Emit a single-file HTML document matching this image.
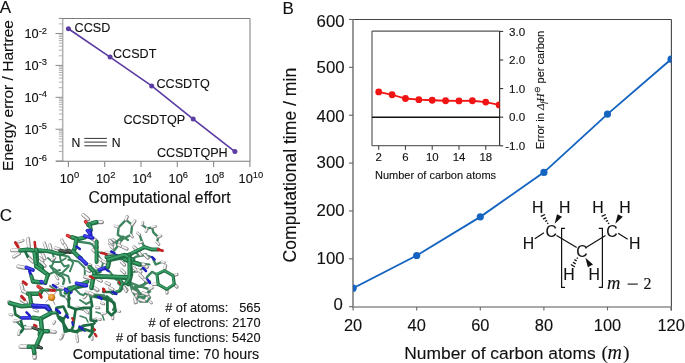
<!DOCTYPE html>
<html><head><meta charset="utf-8"><style>
html,body{margin:0;padding:0;background:#fff;}
svg{display:block;filter:blur(0.4px);}
#mol polyline{fill:none;stroke-linecap:round;stroke-linejoin:round;}
text{stroke:#111;stroke-width:0.12px;}
</style></head><body>
<svg width="685" height="363" viewBox="0 0 685 363">
<rect width="685" height="363" fill="#fff"/>
<g id="mol"><polyline points="52.1,252 54.3,258.7 53.2,263.1 51,267.5" stroke="#3f8560" stroke-width="2.00"/>
<polyline points="59.8,255.4 61,262 64.3,266.4 68.7,265.3" stroke="#3f8560" stroke-width="2.00"/>
<polyline points="51,266.4 54.3,271.9 57.6,274.1 62,273 65.4,269.7 68.7,266.4" stroke="#3f8560" stroke-width="2.00"/>
<polyline points="57.6,274.1 62,276.3 64.3,279.6 63.2,284" stroke="#3f8560" stroke-width="2.40"/>
<polyline points="59.8,287.4 60.9,295.1 66.5,297.3 68.7,302" stroke="#3f8560" stroke-width="2.40"/>
<polyline points="84.8,294 104,295.4" stroke="#3f8560" stroke-width="2.40"/>
<polyline points="16,321 22.3,327.3 25.5,325.7" stroke="#3f8560" stroke-width="2.00"/>
<polyline points="130.8,285.1 132.2,290.6 136.3,297.5 143.2,297.5 147.3,294.8 150,297.5 147.3,301.6 140.4,301.6 136.3,297.5" stroke="#3f8560" stroke-width="2.40"/>
<polyline points="97.4,252.2 109.8,253.4 119.8,255.9 129.7,259.6 139.6,263.3 149.5,264.6" stroke="#3f8560" stroke-width="2.00"/>
<polyline points="50,286 56,290 62,290" stroke="#3f8560" stroke-width="2.00"/>
<polyline points="74,288 80,294 86,296" stroke="#3f8560" stroke-width="2.00"/>
<polyline points="60,262 66,258" stroke="#3f8560" stroke-width="1.60"/>
<polyline points="80,300 86,304 90,302" stroke="#3f8560" stroke-width="2.00"/>
<polyline points="96,312 102,314 104,320" stroke="#3f8560" stroke-width="1.60"/>
<polyline points="80,316 86,318 88,322" stroke="#3f8560" stroke-width="1.60"/>
<polyline points="78.2,241.6 89.7,243.2 93,244.9 94.7,248.2" stroke="#3f8560" stroke-width="2.40"/>
<polyline points="109.5,239.9 116.1,242.4 122.7,236.6 128,239.9" stroke="#3f8560" stroke-width="2.40"/>
<polyline points="60,254.8 68.3,256.4 73.2,263 69.9,271.3" stroke="#3f8560" stroke-width="2.00"/>
<polyline points="68.3,259.7 78.2,261.4 84.8,268 84.8,274.6" stroke="#3f8560" stroke-width="2.00"/>
<polyline points="98,254.8 103,263 101.3,269.6" stroke="#3f8560" stroke-width="2.00"/>
<polyline points="109.5,271.3 116.1,279.5 122.7,282.8" stroke="#3f8560" stroke-width="2.00"/>
<polyline points="60,273 68.3,276.2 69.9,282.8" stroke="#3f8560" stroke-width="2.00"/>
<polyline points="47.9,258 53,262 60,262" stroke="#3f8560" stroke-width="2.00"/>
<polyline points="50,266 56,270 60,276" stroke="#3f8560" stroke-width="2.00"/>
<polyline points="47.9,274.8 54,272 60,270" stroke="#3f8560" stroke-width="2.00"/>
<polyline points="40,267 44,270" stroke="#3f8560" stroke-width="2.00"/>
<polyline points="118.6,227.3 126,219.9 132.2,224.9 131,234.8 123.5,238.5 117.8,234.8 118.6,227.3" stroke="#3f8560" stroke-width="2.40"/>
<polyline points="123.5,238.5 119.8,242.2 114.9,241" stroke="#3f8560" stroke-width="2.40"/>
<polyline points="142.1,224.9 147.1,228.6 152,227.3 153.3,232.3 158.2,237.2 157,242.2" stroke="#3f8560" stroke-width="2.40"/>
<polyline points="139.6,234.8 142.1,242.2 144.6,247.2" stroke="#3f8560" stroke-width="2.40"/>
<polyline points="153.3,259.5 155.7,264.5 161.9,262" stroke="#3f8560" stroke-width="2.40"/>
<polyline points="157,274.4 152,271.9 147.1,276.9 144.6,284.3 137.2,286.8" stroke="#3f8560" stroke-width="2.40"/>
<polyline points="134.7,286.8 137.2,294.2 147.1,294.2 149.5,289.3 142.1,286.8 134.7,286.8" stroke="#3f8560" stroke-width="2.40"/>
<polyline points="135,252 140,256 146,254" stroke="#3f8560" stroke-width="2.00"/>
<polyline points="134,272 140,270 146,266" stroke="#3f8560" stroke-width="2.00"/>
<polyline points="114.9,275.6 124.8,279.4" stroke="#3f8560" stroke-width="2.00"/>
<polyline points="112,242.9 116.4,241.8 119.8,239.6" stroke="#3f8560" stroke-width="2.40"/>
<polyline points="116.4,241.8 117.5,246.2 114.2,250.6" stroke="#3f8560" stroke-width="2.40"/>
<polyline points="131.3,259.9 136.3,256.6 144.5,255 150,256.6" stroke="#3f8560" stroke-width="2.40"/>
<polyline points="118.1,283 123,288 119.8,291.3 111.5,293" stroke="#3f8560" stroke-width="2.40"/>
<polyline points="123,284.7 129.7,283 133,288 136.3,296.3 144.5,297.9" stroke="#3f8560" stroke-width="2.40"/>
<polyline points="99.9,297.9 106.5,296.3 111.5,299.6 114.8,306.2 113.1,310" stroke="#3f8560" stroke-width="2.40"/>
<polyline points="90,296.3 99.9,297.9" stroke="#3f8560" stroke-width="2.40"/>
<polyline points="131.3,283 139.6,286.4 150,281.4" stroke="#3f8560" stroke-width="2.40"/>
<polyline points="136.3,288 139.6,293 146.2,294.6 150,291.3" stroke="#3f8560" stroke-width="2.40"/>
<polyline points="18.7,242.1 23.2,240.5" stroke="#858585" stroke-width="2.75"/>
<polyline points="18.7,242.1 23.2,240.5" stroke="#f4f4f4" stroke-width="1.65" transform="translate(-0.4,-0.4)"/>
<polyline points="28.1,238.8 29.2,248.7" stroke="#858585" stroke-width="3.85"/>
<polyline points="28.1,238.8 29.2,248.7" stroke="#f4f4f4" stroke-width="2.31" transform="translate(-0.4,-0.4)"/>
<polyline points="12.1,250.4 20.4,250.4" stroke="#858585" stroke-width="3.85"/>
<polyline points="12.1,250.4 20.4,250.4" stroke="#f4f4f4" stroke-width="2.31" transform="translate(-0.4,-0.4)"/>
<polyline points="41.9,252 45,258.7" stroke="#858585" stroke-width="3.30"/>
<polyline points="41.9,252 45,258.7" stroke="#f4f4f4" stroke-width="1.98" transform="translate(-0.4,-0.4)"/>
<polyline points="44.4,243.2 46.6,249.8" stroke="#858585" stroke-width="3.30"/>
<polyline points="44.4,243.2 46.6,249.8" stroke="#f4f4f4" stroke-width="1.98" transform="translate(-0.4,-0.4)"/>
<polyline points="49.9,244.9 51,249.3" stroke="#858585" stroke-width="3.30"/>
<polyline points="49.9,244.9 51,249.3" stroke="#f4f4f4" stroke-width="1.98" transform="translate(-0.4,-0.4)"/>
<polyline points="55.4,248.2 59.8,249.3" stroke="#858585" stroke-width="3.30"/>
<polyline points="55.4,248.2 59.8,249.3" stroke="#f4f4f4" stroke-width="1.98" transform="translate(-0.4,-0.4)"/>
<polyline points="83.3,215 88.3,219.4" stroke="#858585" stroke-width="3.85"/>
<polyline points="83.3,215 88.3,219.4" stroke="#f4f4f4" stroke-width="2.31" transform="translate(-0.4,-0.4)"/>
<polyline points="96.5,222.2 102,222.2" stroke="#858585" stroke-width="3.85"/>
<polyline points="96.5,222.2 102,222.2" stroke="#f4f4f4" stroke-width="2.31" transform="translate(-0.4,-0.4)"/>
<polyline points="59.8,287.4 64.3,288.5" stroke="#858585" stroke-width="3.30"/>
<polyline points="59.8,287.4 64.3,288.5" stroke="#f4f4f4" stroke-width="1.98" transform="translate(-0.4,-0.4)"/>
<polyline points="66.5,297.3 69.5,298.5" stroke="#858585" stroke-width="3.30"/>
<polyline points="66.5,297.3 69.5,298.5" stroke="#f4f4f4" stroke-width="1.98" transform="translate(-0.4,-0.4)"/>
<polyline points="93,287.2 97.2,290.6" stroke="#858585" stroke-width="3.30"/>
<polyline points="93,287.2 97.2,290.6" stroke="#f4f4f4" stroke-width="1.98" transform="translate(-0.4,-0.4)"/>
<polyline points="14.3,321.2 20.9,320" stroke="#858585" stroke-width="3.30"/>
<polyline points="14.3,321.2 20.9,320" stroke="#f4f4f4" stroke-width="1.98" transform="translate(-0.4,-0.4)"/>
<polyline points="19.8,331.1 18.7,334.4" stroke="#858585" stroke-width="3.30"/>
<polyline points="19.8,331.1 18.7,334.4" stroke="#f4f4f4" stroke-width="1.98" transform="translate(-0.4,-0.4)"/>
<polyline points="25.4,327.8 30.9,327.8" stroke="#858585" stroke-width="3.85"/>
<polyline points="25.4,327.8 30.9,327.8" stroke="#f4f4f4" stroke-width="2.31" transform="translate(-0.4,-0.4)"/>
<polyline points="34.2,310 37.5,311.1" stroke="#858585" stroke-width="2.75"/>
<polyline points="34.2,310 37.5,311.1" stroke="#f4f4f4" stroke-width="1.65" transform="translate(-0.4,-0.4)"/>
<polyline points="9.9,314.5 12.1,315.1" stroke="#858585" stroke-width="2.75"/>
<polyline points="9.9,314.5 12.1,315.1" stroke="#f4f4f4" stroke-width="1.65" transform="translate(-0.4,-0.4)"/>
<polyline points="47.9,331.3 55,332.1" stroke="#858585" stroke-width="3.85"/>
<polyline points="47.9,331.3 55,332.1" stroke="#f4f4f4" stroke-width="2.31" transform="translate(-0.4,-0.4)"/>
<polyline points="20.7,346.8 28.7,346.8" stroke="#858585" stroke-width="4.40"/>
<polyline points="20.7,346.8 28.7,346.8" stroke="#f4f4f4" stroke-width="2.64" transform="translate(-0.4,-0.4)"/>
<polyline points="34.3,352.9 34.8,357.7" stroke="#858585" stroke-width="4.40"/>
<polyline points="34.3,352.9 34.8,357.7" stroke="#f4f4f4" stroke-width="2.64" transform="translate(-0.4,-0.4)"/>
<polyline points="77,307.5 82.5,309.3" stroke="#858585" stroke-width="3.30"/>
<polyline points="77,307.5 82.5,309.3" stroke="#f4f4f4" stroke-width="1.98" transform="translate(-0.4,-0.4)"/>
<polyline points="85.3,310.6 88,313" stroke="#858585" stroke-width="2.75"/>
<polyline points="85.3,310.6 88,313" stroke="#f4f4f4" stroke-width="1.65" transform="translate(-0.4,-0.4)"/>
<polyline points="96.3,307.9 99,307.9" stroke="#858585" stroke-width="2.75"/>
<polyline points="96.3,307.9 99,307.9" stroke="#f4f4f4" stroke-width="1.65" transform="translate(-0.4,-0.4)"/>
<polyline points="96.3,319 100.5,319.6" stroke="#858585" stroke-width="2.75"/>
<polyline points="96.3,319 100.5,319.6" stroke="#f4f4f4" stroke-width="1.65" transform="translate(-0.4,-0.4)"/>
<polyline points="63.3,334 61.9,338" stroke="#858585" stroke-width="2.75"/>
<polyline points="63.3,334 61.9,338" stroke="#f4f4f4" stroke-width="1.65" transform="translate(-0.4,-0.4)"/>
<polyline points="77,335.5 77,339" stroke="#858585" stroke-width="2.75"/>
<polyline points="77,335.5 77,339" stroke="#f4f4f4" stroke-width="1.65" transform="translate(-0.4,-0.4)"/>
<polyline points="92.2,336.8 92.2,339.5" stroke="#858585" stroke-width="2.75"/>
<polyline points="92.2,336.8 92.2,339.5" stroke="#f4f4f4" stroke-width="1.65" transform="translate(-0.4,-0.4)"/>
<polyline points="62.3,336 60.4,339.1" stroke="#858585" stroke-width="2.75"/>
<polyline points="62.3,336 60.4,339.1" stroke="#f4f4f4" stroke-width="1.65" transform="translate(-0.4,-0.4)"/>
<polyline points="77.2,337.8 77.8,341.5" stroke="#858585" stroke-width="2.75"/>
<polyline points="77.2,337.8 77.8,341.5" stroke="#f4f4f4" stroke-width="1.65" transform="translate(-0.4,-0.4)"/>
<polyline points="54.8,321.7 53.6,323.6" stroke="#858585" stroke-width="2.75"/>
<polyline points="54.8,321.7 53.6,323.6" stroke="#f4f4f4" stroke-width="1.65" transform="translate(-0.4,-0.4)"/>
<polyline points="90.8,319.2 95.8,319.9" stroke="#858585" stroke-width="2.75"/>
<polyline points="90.8,319.2 95.8,319.9" stroke="#f4f4f4" stroke-width="1.65" transform="translate(-0.4,-0.4)"/>
<polyline points="135,297.5 135,303" stroke="#858585" stroke-width="2.75"/>
<polyline points="135,297.5 135,303" stroke="#f4f4f4" stroke-width="1.65" transform="translate(-0.4,-0.4)"/>
<polyline points="150,301.6 151.5,303" stroke="#858585" stroke-width="2.75"/>
<polyline points="150,301.6 151.5,303" stroke="#f4f4f4" stroke-width="1.65" transform="translate(-0.4,-0.4)"/>
<polyline points="112.9,315.4 112.9,318.9" stroke="#858585" stroke-width="2.75"/>
<polyline points="112.9,315.4 112.9,318.9" stroke="#f4f4f4" stroke-width="1.65" transform="translate(-0.4,-0.4)"/>
<polyline points="117,311 119.8,311.5" stroke="#858585" stroke-width="2.75"/>
<polyline points="117,311 119.8,311.5" stroke="#f4f4f4" stroke-width="1.65" transform="translate(-0.4,-0.4)"/>
<polyline points="104,304 101.3,303" stroke="#858585" stroke-width="2.75"/>
<polyline points="104,304 101.3,303" stroke="#f4f4f4" stroke-width="1.65" transform="translate(-0.4,-0.4)"/>
<polyline points="86,292 90,294" stroke="#858585" stroke-width="2.75"/>
<polyline points="86,292 90,294" stroke="#f4f4f4" stroke-width="1.65" transform="translate(-0.4,-0.4)"/>
<polyline points="84,298 86,296" stroke="#858585" stroke-width="2.75"/>
<polyline points="84,298 86,296" stroke="#f4f4f4" stroke-width="1.65" transform="translate(-0.4,-0.4)"/>
<polyline points="102,314 106,313" stroke="#858585" stroke-width="2.75"/>
<polyline points="102,314 106,313" stroke="#f4f4f4" stroke-width="1.65" transform="translate(-0.4,-0.4)"/>
<polyline points="90.5,237.8 95.5,239.9" stroke="#858585" stroke-width="3.85"/>
<polyline points="90.5,237.8 95.5,239.9" stroke="#f4f4f4" stroke-width="2.31" transform="translate(-0.4,-0.4)"/>
<polyline points="94.7,244 97.1,247.3" stroke="#858585" stroke-width="3.30"/>
<polyline points="94.7,244 97.1,247.3" stroke="#f4f4f4" stroke-width="1.98" transform="translate(-0.4,-0.4)"/>
<polyline points="85.5,264 90.5,265.5" stroke="#858585" stroke-width="3.85"/>
<polyline points="85.5,264 90.5,265.5" stroke="#f4f4f4" stroke-width="2.31" transform="translate(-0.4,-0.4)"/>
<polyline points="106.2,252.3 112.5,253" stroke="#858585" stroke-width="3.30"/>
<polyline points="106.2,252.3 112.5,253" stroke="#f4f4f4" stroke-width="1.98" transform="translate(-0.4,-0.4)"/>
<polyline points="84.8,276.8 92,278.8" stroke="#858585" stroke-width="3.85"/>
<polyline points="84.8,276.8 92,278.8" stroke="#f4f4f4" stroke-width="2.31" transform="translate(-0.4,-0.4)"/>
<polyline points="61.7,239.9 63.3,243.2" stroke="#858585" stroke-width="3.30"/>
<polyline points="61.7,239.9 63.3,243.2" stroke="#f4f4f4" stroke-width="1.98" transform="translate(-0.4,-0.4)"/>
<polyline points="65,245 66.6,248.2" stroke="#858585" stroke-width="3.30"/>
<polyline points="65,245 66.6,248.2" stroke="#f4f4f4" stroke-width="1.98" transform="translate(-0.4,-0.4)"/>
<polyline points="93,249.8 94.7,251.5" stroke="#858585" stroke-width="3.30"/>
<polyline points="93,249.8 94.7,251.5" stroke="#f4f4f4" stroke-width="1.98" transform="translate(-0.4,-0.4)"/>
<polyline points="98,258 101.3,260.5" stroke="#858585" stroke-width="3.30"/>
<polyline points="98,258 101.3,260.5" stroke="#f4f4f4" stroke-width="1.98" transform="translate(-0.4,-0.4)"/>
<polyline points="109.5,243.2 112.8,244.9" stroke="#858585" stroke-width="3.30"/>
<polyline points="109.5,243.2 112.8,244.9" stroke="#f4f4f4" stroke-width="1.98" transform="translate(-0.4,-0.4)"/>
<polyline points="111.2,246.5 112.8,248.2" stroke="#858585" stroke-width="3.30"/>
<polyline points="111.2,246.5 112.8,248.2" stroke="#f4f4f4" stroke-width="1.98" transform="translate(-0.4,-0.4)"/>
<polyline points="103,261.4 106.2,263" stroke="#858585" stroke-width="3.30"/>
<polyline points="103,261.4 106.2,263" stroke="#f4f4f4" stroke-width="1.98" transform="translate(-0.4,-0.4)"/>
<polyline points="86.4,269.6 89.7,271.3" stroke="#858585" stroke-width="3.30"/>
<polyline points="86.4,269.6 89.7,271.3" stroke="#f4f4f4" stroke-width="1.98" transform="translate(-0.4,-0.4)"/>
<polyline points="98,279.5 101.3,281.1" stroke="#858585" stroke-width="3.30"/>
<polyline points="98,279.5 101.3,281.1" stroke="#f4f4f4" stroke-width="1.98" transform="translate(-0.4,-0.4)"/>
<polyline points="106.2,282.8 109.5,284.4" stroke="#858585" stroke-width="3.30"/>
<polyline points="106.2,282.8 109.5,284.4" stroke="#f4f4f4" stroke-width="1.98" transform="translate(-0.4,-0.4)"/>
<polyline points="13.8,257 19.3,253.7" stroke="#858585" stroke-width="3.30"/>
<polyline points="13.8,257 19.3,253.7" stroke="#f4f4f4" stroke-width="1.98" transform="translate(-0.4,-0.4)"/>
<polyline points="18.2,266.5 25.5,268" stroke="#858585" stroke-width="3.85"/>
<polyline points="18.2,266.5 25.5,268" stroke="#f4f4f4" stroke-width="2.31" transform="translate(-0.4,-0.4)"/>
<polyline points="27.5,256 31,259.5" stroke="#858585" stroke-width="3.30"/>
<polyline points="27.5,256 31,259.5" stroke="#f4f4f4" stroke-width="1.98" transform="translate(-0.4,-0.4)"/>
<polyline points="29,258.5 33,262" stroke="#858585" stroke-width="3.30"/>
<polyline points="29,258.5 33,262" stroke="#f4f4f4" stroke-width="1.98" transform="translate(-0.4,-0.4)"/>
<polyline points="21.5,285 23.1,291.3" stroke="#858585" stroke-width="3.85"/>
<polyline points="21.5,285 23.1,291.3" stroke="#f4f4f4" stroke-width="2.31" transform="translate(-0.4,-0.4)"/>
<polyline points="23.1,291.3 28.1,293.8" stroke="#858585" stroke-width="3.30"/>
<polyline points="23.1,291.3 28.1,293.8" stroke="#f4f4f4" stroke-width="1.98" transform="translate(-0.4,-0.4)"/>
<polyline points="55,284.5 58,283.5" stroke="#858585" stroke-width="2.75"/>
<polyline points="55,284.5 58,283.5" stroke="#f4f4f4" stroke-width="1.65" transform="translate(-0.4,-0.4)"/>
<polyline points="21.5,300 26.4,302.9" stroke="#858585" stroke-width="3.85"/>
<polyline points="21.5,300 26.4,302.9" stroke="#f4f4f4" stroke-width="2.31" transform="translate(-0.4,-0.4)"/>
<polyline points="9,302 13.5,304.5" stroke="#858585" stroke-width="3.85"/>
<polyline points="9,302 13.5,304.5" stroke="#f4f4f4" stroke-width="2.31" transform="translate(-0.4,-0.4)"/>
<polyline points="52,260 55,258" stroke="#858585" stroke-width="2.75"/>
<polyline points="52,260 55,258" stroke="#f4f4f4" stroke-width="1.65" transform="translate(-0.4,-0.4)"/>
<polyline points="56,276 58,279" stroke="#858585" stroke-width="2.75"/>
<polyline points="56,276 58,279" stroke="#f4f4f4" stroke-width="1.65" transform="translate(-0.4,-0.4)"/>
<polyline points="40,258 43,261" stroke="#858585" stroke-width="3.30"/>
<polyline points="40,258 43,261" stroke="#f4f4f4" stroke-width="1.98" transform="translate(-0.4,-0.4)"/>
<polyline points="42,263 45,266" stroke="#858585" stroke-width="3.30"/>
<polyline points="42,263 45,266" stroke="#f4f4f4" stroke-width="1.98" transform="translate(-0.4,-0.4)"/>
<polyline points="126,219.9 127.2,216.8" stroke="#858585" stroke-width="3.30"/>
<polyline points="126,219.9 127.2,216.8" stroke="#f4f4f4" stroke-width="1.98" transform="translate(-0.4,-0.4)"/>
<polyline points="132.2,224.9 134.9,221" stroke="#858585" stroke-width="3.30"/>
<polyline points="132.2,224.9 134.9,221" stroke="#f4f4f4" stroke-width="1.98" transform="translate(-0.4,-0.4)"/>
<polyline points="131,234.8 132.5,237" stroke="#858585" stroke-width="2.75"/>
<polyline points="131,234.8 132.5,237" stroke="#f4f4f4" stroke-width="1.65" transform="translate(-0.4,-0.4)"/>
<polyline points="117.8,227 115,226" stroke="#858585" stroke-width="2.75"/>
<polyline points="117.8,227 115,226" stroke="#f4f4f4" stroke-width="1.65" transform="translate(-0.4,-0.4)"/>
<polyline points="114.9,241 112.5,239.5" stroke="#858585" stroke-width="2.75"/>
<polyline points="114.9,241 112.5,239.5" stroke="#f4f4f4" stroke-width="1.65" transform="translate(-0.4,-0.4)"/>
<polyline points="119.8,242.2 119,245" stroke="#858585" stroke-width="2.75"/>
<polyline points="119.8,242.2 119,245" stroke="#f4f4f4" stroke-width="1.65" transform="translate(-0.4,-0.4)"/>
<polyline points="142.1,224.9 143,222.5" stroke="#858585" stroke-width="2.75"/>
<polyline points="142.1,224.9 143,222.5" stroke="#f4f4f4" stroke-width="1.65" transform="translate(-0.4,-0.4)"/>
<polyline points="152,227.3 155.5,226.5" stroke="#858585" stroke-width="2.75"/>
<polyline points="152,227.3 155.5,226.5" stroke="#f4f4f4" stroke-width="1.65" transform="translate(-0.4,-0.4)"/>
<polyline points="158.2,237.2 161,236" stroke="#858585" stroke-width="2.75"/>
<polyline points="158.2,237.2 161,236" stroke="#f4f4f4" stroke-width="1.65" transform="translate(-0.4,-0.4)"/>
<polyline points="157,242.2 159,244.5" stroke="#858585" stroke-width="2.75"/>
<polyline points="157,242.2 159,244.5" stroke="#f4f4f4" stroke-width="1.65" transform="translate(-0.4,-0.4)"/>
<polyline points="147.1,228.6 146,231.5" stroke="#858585" stroke-width="2.75"/>
<polyline points="147.1,228.6 146,231.5" stroke="#f4f4f4" stroke-width="1.65" transform="translate(-0.4,-0.4)"/>
<polyline points="139.6,234.8 137.5,233" stroke="#858585" stroke-width="2.75"/>
<polyline points="139.6,234.8 137.5,233" stroke="#f4f4f4" stroke-width="1.65" transform="translate(-0.4,-0.4)"/>
<polyline points="142.1,242.2 139.5,243" stroke="#858585" stroke-width="2.75"/>
<polyline points="142.1,242.2 139.5,243" stroke="#f4f4f4" stroke-width="1.65" transform="translate(-0.4,-0.4)"/>
<polyline points="139.6,264.5 147.1,267" stroke="#858585" stroke-width="3.85"/>
<polyline points="139.6,264.5 147.1,267" stroke="#f4f4f4" stroke-width="2.31" transform="translate(-0.4,-0.4)"/>
<polyline points="161.9,262 164.5,262.5" stroke="#858585" stroke-width="2.75"/>
<polyline points="161.9,262 164.5,262.5" stroke="#f4f4f4" stroke-width="1.65" transform="translate(-0.4,-0.4)"/>
<polyline points="164.4,270.7 165.6,265.7" stroke="#858585" stroke-width="3.30"/>
<polyline points="164.4,270.7 165.6,265.7" stroke="#f4f4f4" stroke-width="1.98" transform="translate(-0.4,-0.4)"/>
<polyline points="173.1,275.6 177,274.5" stroke="#858585" stroke-width="3.30"/>
<polyline points="173.1,275.6 177,274.5" stroke="#f4f4f4" stroke-width="1.98" transform="translate(-0.4,-0.4)"/>
<polyline points="174.3,284.3 177,287" stroke="#858585" stroke-width="3.30"/>
<polyline points="174.3,284.3 177,287" stroke="#f4f4f4" stroke-width="1.98" transform="translate(-0.4,-0.4)"/>
<polyline points="166.9,289.3 167,293" stroke="#858585" stroke-width="3.30"/>
<polyline points="166.9,289.3 167,293" stroke="#f4f4f4" stroke-width="1.98" transform="translate(-0.4,-0.4)"/>
<polyline points="158.2,284.3 153.3,284.3" stroke="#858585" stroke-width="3.30"/>
<polyline points="158.2,284.3 153.3,284.3" stroke="#f4f4f4" stroke-width="1.98" transform="translate(-0.4,-0.4)"/>
<polyline points="137.2,294.2 136,297.5" stroke="#858585" stroke-width="2.75"/>
<polyline points="137.2,294.2 136,297.5" stroke="#f4f4f4" stroke-width="1.65" transform="translate(-0.4,-0.4)"/>
<polyline points="147.1,294.2 149,297" stroke="#858585" stroke-width="2.75"/>
<polyline points="147.1,294.2 149,297" stroke="#f4f4f4" stroke-width="1.65" transform="translate(-0.4,-0.4)"/>
<polyline points="149.5,289.3 152.5,288" stroke="#858585" stroke-width="2.75"/>
<polyline points="149.5,289.3 152.5,288" stroke="#f4f4f4" stroke-width="1.65" transform="translate(-0.4,-0.4)"/>
<polyline points="134,247 137,250" stroke="#858585" stroke-width="3.30"/>
<polyline points="134,247 137,250" stroke="#f4f4f4" stroke-width="1.98" transform="translate(-0.4,-0.4)"/>
<polyline points="138,251 141,255" stroke="#858585" stroke-width="3.30"/>
<polyline points="138,251 141,255" stroke="#f4f4f4" stroke-width="1.98" transform="translate(-0.4,-0.4)"/>
<polyline points="145,255 148,258" stroke="#858585" stroke-width="3.30"/>
<polyline points="145,255 148,258" stroke="#f4f4f4" stroke-width="1.98" transform="translate(-0.4,-0.4)"/>
<polyline points="134,268 137,271" stroke="#858585" stroke-width="3.30"/>
<polyline points="134,268 137,271" stroke="#f4f4f4" stroke-width="1.98" transform="translate(-0.4,-0.4)"/>
<polyline points="140,275 143,278" stroke="#858585" stroke-width="3.30"/>
<polyline points="140,275 143,278" stroke="#f4f4f4" stroke-width="1.98" transform="translate(-0.4,-0.4)"/>
<polyline points="121.5,262 124.5,265" stroke="#858585" stroke-width="3.30"/>
<polyline points="121.5,262 124.5,265" stroke="#f4f4f4" stroke-width="1.98" transform="translate(-0.4,-0.4)"/>
<polyline points="124,287 127,290" stroke="#858585" stroke-width="3.30"/>
<polyline points="124,287 127,290" stroke="#f4f4f4" stroke-width="1.98" transform="translate(-0.4,-0.4)"/>
<polyline points="109.8,240.7 112,242.9" stroke="#858585" stroke-width="3.30"/>
<polyline points="109.8,240.7 112,242.9" stroke="#f4f4f4" stroke-width="1.98" transform="translate(-0.4,-0.4)"/>
<polyline points="118.6,245.1 120.9,246.2" stroke="#858585" stroke-width="3.30"/>
<polyline points="118.6,245.1 120.9,246.2" stroke="#f4f4f4" stroke-width="1.98" transform="translate(-0.4,-0.4)"/>
<polyline points="92.2,238.5 96.6,241.8" stroke="#858585" stroke-width="3.85"/>
<polyline points="92.2,238.5 96.6,241.8" stroke="#f4f4f4" stroke-width="2.31" transform="translate(-0.4,-0.4)"/>
<polyline points="123,247.3 127,249" stroke="#858585" stroke-width="3.30"/>
<polyline points="123,247.3 127,249" stroke="#f4f4f4" stroke-width="1.98" transform="translate(-0.4,-0.4)"/>
<polyline points="136.3,263.2 144.5,264.9" stroke="#858585" stroke-width="3.30"/>
<polyline points="136.3,263.2 144.5,264.9" stroke="#f4f4f4" stroke-width="1.98" transform="translate(-0.4,-0.4)"/>
<polyline points="138,270 141,272" stroke="#858585" stroke-width="3.30"/>
<polyline points="138,270 141,272" stroke="#f4f4f4" stroke-width="1.98" transform="translate(-0.4,-0.4)"/>
<polyline points="95,288 98,290" stroke="#858585" stroke-width="3.30"/>
<polyline points="95,288 98,290" stroke="#f4f4f4" stroke-width="1.98" transform="translate(-0.4,-0.4)"/>
<polyline points="90,293 93,294.5" stroke="#858585" stroke-width="3.30"/>
<polyline points="90,293 93,294.5" stroke="#f4f4f4" stroke-width="1.98" transform="translate(-0.4,-0.4)"/>
<polyline points="109.8,288 113,289.5" stroke="#858585" stroke-width="3.30"/>
<polyline points="109.8,288 113,289.5" stroke="#f4f4f4" stroke-width="1.98" transform="translate(-0.4,-0.4)"/>
<polyline points="121.4,279.5 124.7,281.4" stroke="#858585" stroke-width="3.30"/>
<polyline points="121.4,279.5 124.7,281.4" stroke="#f4f4f4" stroke-width="1.98" transform="translate(-0.4,-0.4)"/>
<polyline points="124.7,288 126.4,291.3" stroke="#858585" stroke-width="3.30"/>
<polyline points="124.7,288 126.4,291.3" stroke="#f4f4f4" stroke-width="1.98" transform="translate(-0.4,-0.4)"/>
<polyline points="133,291.3 136.3,293" stroke="#858585" stroke-width="3.30"/>
<polyline points="133,291.3 136.3,293" stroke="#f4f4f4" stroke-width="1.98" transform="translate(-0.4,-0.4)"/>
<polyline points="134.6,298 136.3,302.5" stroke="#858585" stroke-width="3.30"/>
<polyline points="134.6,298 136.3,302.5" stroke="#f4f4f4" stroke-width="1.98" transform="translate(-0.4,-0.4)"/>
<polyline points="139.6,299.6 144.5,301.3" stroke="#858585" stroke-width="3.30"/>
<polyline points="139.6,299.6 144.5,301.3" stroke="#f4f4f4" stroke-width="1.98" transform="translate(-0.4,-0.4)"/>
<polyline points="142.9,293 147.8,294.6" stroke="#858585" stroke-width="3.30"/>
<polyline points="142.9,293 147.8,294.6" stroke="#f4f4f4" stroke-width="1.98" transform="translate(-0.4,-0.4)"/>
<polyline points="144.5,279.8 147.8,281.4" stroke="#858585" stroke-width="3.30"/>
<polyline points="144.5,279.8 147.8,281.4" stroke="#f4f4f4" stroke-width="1.98" transform="translate(-0.4,-0.4)"/>
<polyline points="121.4,270 124.7,273" stroke="#858585" stroke-width="3.30"/>
<polyline points="121.4,270 124.7,273" stroke="#f4f4f4" stroke-width="1.98" transform="translate(-0.4,-0.4)"/>
<polyline points="96.6,266.5 99.9,268.2" stroke="#858585" stroke-width="3.30"/>
<polyline points="96.6,266.5 99.9,268.2" stroke="#f4f4f4" stroke-width="1.98" transform="translate(-0.4,-0.4)"/>
<polyline points="15.4,242.5 18.2,247" stroke="#c02222" stroke-width="2.98"/>
<polyline points="34.7,242.1 35.3,247.6" stroke="#c02222" stroke-width="2.55"/>
<polyline points="20.4,250.4 27.6,249.8 33.1,250.4 41.9,250.9" stroke="#1f6d43" stroke-width="4.50"/>
<polyline points="20.4,250.4 27.6,249.8 33.1,250.4 41.9,250.9" stroke="#3aa268" stroke-width="2.02" transform="translate(-0.4,-0.4)"/>
<polyline points="25.4,252 27.6,256.5" stroke="#1f6d43" stroke-width="2.70"/>
<polyline points="36.4,249.8 36.9,263.1 41.9,267.5" stroke="#1f6d43" stroke-width="4.50"/>
<polyline points="36.4,249.8 36.9,263.1 41.9,267.5" stroke="#3aa268" stroke-width="2.02" transform="translate(-0.4,-0.4)"/>
<polyline points="40,250.4 46.6,251 52.1,252 57.6,253.7 62,253.7 68.7,250.9" stroke="#1f6d43" stroke-width="4.00"/>
<polyline points="40,250.4 46.6,251 52.1,252 57.6,253.7 62,253.7 68.7,250.9" stroke="#3aa268" stroke-width="1.80" transform="translate(-0.4,-0.4)"/>
<polyline points="85.5,221.6 88.3,224.9" stroke="#c02222" stroke-width="3.40"/>
<polyline points="85.5,221.6 88.3,224.9" stroke="#e84a4a" stroke-width="1.53" transform="translate(-0.4,-0.4)"/>
<polyline points="88.3,224.9 92.1,223.3 96.5,222.2" stroke="#1f6d43" stroke-width="4.50"/>
<polyline points="88.3,224.9 92.1,223.3 96.5,222.2" stroke="#3aa268" stroke-width="2.02" transform="translate(-0.4,-0.4)"/>
<polyline points="89.9,224.9 91,230.4" stroke="#1f6d43" stroke-width="4.00"/>
<polyline points="89.9,224.9 91,230.4" stroke="#3aa268" stroke-width="1.80" transform="translate(-0.4,-0.4)"/>
<polyline points="89.9,230.4 91,237" stroke="#2020c0" stroke-width="3.82"/>
<polyline points="89.9,230.4 91,237" stroke="#4848f0" stroke-width="1.72" transform="translate(-0.4,-0.4)"/>
<polyline points="68.7,288.5 85,285.2" stroke="#1f6d43" stroke-width="4.50"/>
<polyline points="68.7,288.5 85,285.2" stroke="#3aa268" stroke-width="2.02" transform="translate(-0.4,-0.4)"/>
<polyline points="65.4,289.6 70.9,291.8" stroke="#2020c0" stroke-width="3.82"/>
<polyline points="65.4,289.6 70.9,291.8" stroke="#4848f0" stroke-width="1.72" transform="translate(-0.4,-0.4)"/>
<polyline points="60,250.5 70,252.2" stroke="#2a3a30" stroke-width="3.60"/>
<polyline points="60,250.5 70,252.2" stroke="#606862" stroke-width="1.62" transform="translate(-0.4,-0.4)"/>
<polyline points="65.5,292.7 77.9,285.8 87.5,281.7" stroke="#1f6d43" stroke-width="4.00"/>
<polyline points="65.5,292.7 77.9,285.8 87.5,281.7" stroke="#3aa268" stroke-width="1.80" transform="translate(-0.4,-0.4)"/>
<polyline points="65.5,290 69.6,292.7" stroke="#2020c0" stroke-width="3.40"/>
<polyline points="65.5,290 69.6,292.7" stroke="#4848f0" stroke-width="1.53" transform="translate(-0.4,-0.4)"/>
<polyline points="104,289.2 104.7,291.3" stroke="#c02222" stroke-width="2.55"/>
<polyline points="33.1,306.8 45,306.8 49.5,310.4" stroke="#2020c0" stroke-width="3.82"/>
<polyline points="33.1,306.8 45,306.8 49.5,310.4" stroke="#4848f0" stroke-width="1.72" transform="translate(-0.4,-0.4)"/>
<polyline points="14.3,306.8 15.4,314.5 20.9,317.8" stroke="#1f6d43" stroke-width="2.70"/>
<polyline points="22,317.8 33.1,317.8" stroke="#2020c0" stroke-width="3.82"/>
<polyline points="22,317.8 33.1,317.8" stroke="#4848f0" stroke-width="1.72" transform="translate(-0.4,-0.4)"/>
<polyline points="26.5,312.3 29.8,315.6" stroke="#2020c0" stroke-width="2.55"/>
<polyline points="33.1,317.8 40.8,318.9 44.1,316.7 51.1,313 47.9,306.6" stroke="#1f6d43" stroke-width="4.50"/>
<polyline points="33.1,317.8 40.8,318.9 44.1,316.7 51.1,313 47.9,306.6" stroke="#3aa268" stroke-width="2.02" transform="translate(-0.4,-0.4)"/>
<polyline points="40.8,318.9 41.9,328.9 39.7,334.4" stroke="#1f6d43" stroke-width="4.50"/>
<polyline points="40.8,318.9 41.9,328.9 39.7,334.4" stroke="#3aa268" stroke-width="2.02" transform="translate(-0.4,-0.4)"/>
<polyline points="20.9,321.2 23.2,328.9 20.9,332.2" stroke="#1f6d43" stroke-width="2.70"/>
<polyline points="33.1,327.8 39.7,330" stroke="#2a3a30" stroke-width="3.15"/>
<polyline points="33.1,327.8 39.7,330" stroke="#606862" stroke-width="1.42" transform="translate(-0.4,-0.4)"/>
<polyline points="34.2,325 36.4,326.1" stroke="#c02222" stroke-width="2.55"/>
<polyline points="51.1,313 57,313" stroke="#1f6d43" stroke-width="3.15"/>
<polyline points="51.1,313 57,313" stroke="#3aa268" stroke-width="1.42" transform="translate(-0.4,-0.4)"/>
<polyline points="56,309.8 60,313" stroke="#2020c0" stroke-width="2.55"/>
<polyline points="39.9,331.3 47.9,331.3" stroke="#1f6d43" stroke-width="4.50"/>
<polyline points="39.9,331.3 47.9,331.3" stroke="#3aa268" stroke-width="2.02" transform="translate(-0.4,-0.4)"/>
<polyline points="42.3,332.1 36.7,344.9" stroke="#1f6d43" stroke-width="4.50"/>
<polyline points="42.3,332.1 36.7,344.9" stroke="#3aa268" stroke-width="2.02" transform="translate(-0.4,-0.4)"/>
<polyline points="28.7,346.8 38.3,346.8" stroke="#1f6d43" stroke-width="4.50"/>
<polyline points="28.7,346.8 38.3,346.8" stroke="#3aa268" stroke-width="2.02" transform="translate(-0.4,-0.4)"/>
<polyline points="38.3,346.8 41.5,348" stroke="#2a3a30" stroke-width="3.15"/>
<polyline points="38.3,346.8 41.5,348" stroke="#606862" stroke-width="1.42" transform="translate(-0.4,-0.4)"/>
<polyline points="33.5,347.3 34.3,352.9" stroke="#1f6d43" stroke-width="4.50"/>
<polyline points="33.5,347.3 34.3,352.9" stroke="#3aa268" stroke-width="2.02" transform="translate(-0.4,-0.4)"/>
<polyline points="68.8,292.8 68.8,306.5" stroke="#1f6d43" stroke-width="2.70"/>
<polyline points="68.8,306.5 75.6,309.3" stroke="#1f6d43" stroke-width="2.70"/>
<polyline points="75.6,309.3 72.9,327.2 71.5,329.9" stroke="#1f6d43" stroke-width="2.70"/>
<polyline points="72.2,318 73.2,320.5" stroke="#c02222" stroke-width="2.12"/>
<polyline points="72.2,322 72.9,325" stroke="#2020c0" stroke-width="2.12"/>
<polyline points="75.6,309.3 83.9,307.9 90.8,307.9" stroke="#1f6d43" stroke-width="2.70"/>
<polyline points="90.8,307.9 90.8,320.3 96.3,321" stroke="#1f6d43" stroke-width="2.70"/>
<polyline points="90.8,298.3 92.2,306.5" stroke="#1f6d43" stroke-width="2.70"/>
<polyline points="56.4,307.9 63.3,306.5 67.4,314.8 63.3,318.9 57.8,316.1 56.4,307.9" stroke="#1f6d43" stroke-width="2.70"/>
<polyline points="56.4,309.3 59.1,312" stroke="#2020c0" stroke-width="2.55"/>
<polyline points="66,315.5 68,317.5" stroke="#2020c0" stroke-width="2.55"/>
<polyline points="63.3,318.9 63.3,323 67.4,329.9 75.6,331.3 82.5,329.9" stroke="#1f6d43" stroke-width="2.70"/>
<polyline points="79.8,327.2 85.3,329.9" stroke="#2020c0" stroke-width="2.98"/>
<polyline points="82.5,325.8 92.2,324.4 93.5,331.3 89.4,336.8" stroke="#1f6d43" stroke-width="2.70"/>
<polyline points="92.2,328.5 94.9,329.9" stroke="#c02222" stroke-width="2.55"/>
<polyline points="94.9,334 96.3,336.1" stroke="#c02222" stroke-width="2.55"/>
<polyline points="99,296.9 105.9,299.6 107.3,296.9" stroke="#1f6d43" stroke-width="2.70"/>
<polyline points="58.6,318 63.5,323 64.8,331.6 69.7,330.4 77.2,332.3 79.7,327.9" stroke="#1f6d43" stroke-width="2.70"/>
<polyline points="79.7,326.7 84.6,330.4" stroke="#2020c0" stroke-width="2.55"/>
<polyline points="84.6,329.2 92,331.6 92,325.4 94.5,323" stroke="#1f6d43" stroke-width="2.70"/>
<polyline points="107.4,298.9 114.3,303 115.6,311.3 111.5,315.4 107.4,311.3 107.4,303 107.4,298.9" stroke="#1f6d43" stroke-width="2.70"/>
<polyline points="103.3,292 111.5,292" stroke="#1f6d43" stroke-width="2.70"/>
<polyline points="103.3,290 104.6,291.3" stroke="#c02222" stroke-width="2.12"/>
<polyline points="111.5,292.7 115.6,294" stroke="#2020c0" stroke-width="2.12"/>
<polyline points="95,296.1 100.5,297.5 107.4,298.9" stroke="#1f6d43" stroke-width="2.70"/>
<polyline points="99.5,296.5 101.5,298" stroke="#2020c0" stroke-width="2.12"/>
<polyline points="67.4,235.5 72,237.8" stroke="#c02222" stroke-width="3.40"/>
<polyline points="67.4,235.5 72,237.8" stroke="#e84a4a" stroke-width="1.53" transform="translate(-0.4,-0.4)"/>
<polyline points="72.4,237.4 78.2,239.1 84.8,237.4" stroke="#1f6d43" stroke-width="4.50"/>
<polyline points="72.4,237.4 78.2,239.1 84.8,237.4" stroke="#3aa268" stroke-width="2.02" transform="translate(-0.4,-0.4)"/>
<polyline points="84.8,236 92.5,237.8" stroke="#2020c0" stroke-width="3.82"/>
<polyline points="84.8,236 92.5,237.8" stroke="#4848f0" stroke-width="1.72" transform="translate(-0.4,-0.4)"/>
<polyline points="87.2,230.5 90.2,234.1" stroke="#2020c0" stroke-width="3.40"/>
<polyline points="87.2,230.5 90.2,234.1" stroke="#4848f0" stroke-width="1.53" transform="translate(-0.4,-0.4)"/>
<polyline points="76.5,239.1 74.9,248.2 73.2,251.5" stroke="#1f6d43" stroke-width="4.50"/>
<polyline points="76.5,239.1 74.9,248.2 73.2,251.5" stroke="#3aa268" stroke-width="2.02" transform="translate(-0.4,-0.4)"/>
<polyline points="76.5,246.5 79.8,249" stroke="#2020c0" stroke-width="2.55"/>
<polyline points="68.3,250.8 73.2,252.3" stroke="#2a3a30" stroke-width="3.60"/>
<polyline points="68.3,250.8 73.2,252.3" stroke="#606862" stroke-width="1.62" transform="translate(-0.4,-0.4)"/>
<polyline points="73.2,251.5 78.2,256.4 80.5,258" stroke="#1f6d43" stroke-width="4.50"/>
<polyline points="73.2,251.5 78.2,256.4 80.5,258" stroke="#3aa268" stroke-width="2.02" transform="translate(-0.4,-0.4)"/>
<polyline points="79.5,257.5 86.4,263.8" stroke="#2020c0" stroke-width="3.82"/>
<polyline points="79.5,257.5 86.4,263.8" stroke="#4848f0" stroke-width="1.72" transform="translate(-0.4,-0.4)"/>
<polyline points="89.7,267.1 94.7,272.1 99.6,271.3" stroke="#1f6d43" stroke-width="4.50"/>
<polyline points="89.7,267.1 94.7,272.1 99.6,271.3" stroke="#3aa268" stroke-width="2.02" transform="translate(-0.4,-0.4)"/>
<polyline points="99.6,269.8 107.9,267.1" stroke="#2020c0" stroke-width="3.82"/>
<polyline points="99.6,269.8 107.9,267.1" stroke="#4848f0" stroke-width="1.72" transform="translate(-0.4,-0.4)"/>
<polyline points="105,268.5 108.5,271" stroke="#2020c0" stroke-width="2.55"/>
<polyline points="107.9,267.1 109.5,259.7 117.8,258.1 126,257.2" stroke="#1f6d43" stroke-width="4.50"/>
<polyline points="107.9,267.1 109.5,259.7 117.8,258.1 126,257.2" stroke="#3aa268" stroke-width="2.02" transform="translate(-0.4,-0.4)"/>
<polyline points="106.2,255.6 109.5,257.2" stroke="#c02222" stroke-width="2.98"/>
<polyline points="101.3,253.1 106.2,253.9" stroke="#c02222" stroke-width="2.55"/>
<polyline points="111.2,251.5 114.5,253.1" stroke="#2020c0" stroke-width="2.55"/>
<polyline points="94.7,272.9 93,279.5 91.4,288" stroke="#1f6d43" stroke-width="4.50"/>
<polyline points="94.7,272.9 93,279.5 91.4,288" stroke="#3aa268" stroke-width="2.02" transform="translate(-0.4,-0.4)"/>
<polyline points="96.3,276.2 130,277.9" stroke="#1f6d43" stroke-width="4.50"/>
<polyline points="96.3,276.2 130,277.9" stroke="#3aa268" stroke-width="2.02" transform="translate(-0.4,-0.4)"/>
<polyline points="93,276.2 95.5,277.9" stroke="#c02222" stroke-width="2.55"/>
<polyline points="76.5,283.3 86.4,285.6" stroke="#2020c0" stroke-width="3.82"/>
<polyline points="76.5,283.3 86.4,285.6" stroke="#4848f0" stroke-width="1.72" transform="translate(-0.4,-0.4)"/>
<polyline points="34.7,253.3 36.4,266.5" stroke="#1f6d43" stroke-width="4.50"/>
<polyline points="34.7,253.3 36.4,266.5" stroke="#3aa268" stroke-width="2.02" transform="translate(-0.4,-0.4)"/>
<polyline points="36.4,266.5 47.9,274.8" stroke="#1f6d43" stroke-width="4.50"/>
<polyline points="36.4,266.5 47.9,274.8" stroke="#3aa268" stroke-width="2.02" transform="translate(-0.4,-0.4)"/>
<polyline points="26.4,267.5 33,270" stroke="#2020c0" stroke-width="3.82"/>
<polyline points="26.4,267.5 33,270" stroke="#4848f0" stroke-width="1.72" transform="translate(-0.4,-0.4)"/>
<polyline points="29.5,271 31.4,276.4" stroke="#2020c0" stroke-width="2.98"/>
<polyline points="31.4,276.4 33,281.4" stroke="#1f6d43" stroke-width="4.00"/>
<polyline points="31.4,276.4 33,281.4" stroke="#3aa268" stroke-width="1.80" transform="translate(-0.4,-0.4)"/>
<polyline points="33,281.4 41.3,282.5" stroke="#1f6d43" stroke-width="4.50"/>
<polyline points="33,281.4 41.3,282.5" stroke="#3aa268" stroke-width="2.02" transform="translate(-0.4,-0.4)"/>
<polyline points="41.3,281.8 45.5,283.2" stroke="#2020c0" stroke-width="3.82"/>
<polyline points="41.3,281.8 45.5,283.2" stroke="#4848f0" stroke-width="1.72" transform="translate(-0.4,-0.4)"/>
<polyline points="45.5,282.5 47.9,274.8" stroke="#1f6d43" stroke-width="4.00"/>
<polyline points="45.5,282.5 47.9,274.8" stroke="#3aa268" stroke-width="1.80" transform="translate(-0.4,-0.4)"/>
<polyline points="23.1,281.8 26.4,284.3" stroke="#c02222" stroke-width="2.98"/>
<polyline points="28.1,293.8 39.7,293.8 41.3,291.3" stroke="#1f6d43" stroke-width="4.50"/>
<polyline points="28.1,293.8 39.7,293.8 41.3,291.3" stroke="#3aa268" stroke-width="2.02" transform="translate(-0.4,-0.4)"/>
<polyline points="38,286.4 42.5,289.5" stroke="#c02222" stroke-width="3.40"/>
<polyline points="38,286.4 42.5,289.5" stroke="#e84a4a" stroke-width="1.53" transform="translate(-0.4,-0.4)"/>
<polyline points="39.7,294 41.3,297.1" stroke="#c02222" stroke-width="2.98"/>
<polyline points="47.9,289.9 54.5,290.5" stroke="#c02222" stroke-width="2.98"/>
<polyline points="42,290 47.9,290" stroke="#1f6d43" stroke-width="3.15"/>
<polyline points="42,290 47.9,290" stroke="#3aa268" stroke-width="1.42" transform="translate(-0.4,-0.4)"/>
<polyline points="52.9,285 56.5,287.5" stroke="#2020c0" stroke-width="2.55"/>
<polyline points="21.5,296.3 24.5,299.6" stroke="#c02222" stroke-width="2.98"/>
<polyline points="29.8,294.6 31.4,304.5" stroke="#1f6d43" stroke-width="4.00"/>
<polyline points="29.8,294.6 31.4,304.5" stroke="#3aa268" stroke-width="1.80" transform="translate(-0.4,-0.4)"/>
<polyline points="9.9,303.2 21.5,306.2 33,305.4" stroke="#1f6d43" stroke-width="4.50"/>
<polyline points="9.9,303.2 21.5,306.2 33,305.4" stroke="#3aa268" stroke-width="2.02" transform="translate(-0.4,-0.4)"/>
<polyline points="33,305.4 46.3,306.2 49.5,309.5" stroke="#2020c0" stroke-width="3.82"/>
<polyline points="33,305.4 46.3,306.2 49.5,309.5" stroke="#4848f0" stroke-width="1.72" transform="translate(-0.4,-0.4)"/>
<polyline points="122.3,257.1 132.2,253.3 144.6,247.2 152,249.6 158.2,249.6" stroke="#1f6d43" stroke-width="4.00"/>
<polyline points="122.3,257.1 132.2,253.3 144.6,247.2 152,249.6 158.2,249.6" stroke="#3aa268" stroke-width="1.80" transform="translate(-0.4,-0.4)"/>
<polyline points="158.2,249.6 162.4,250.6" stroke="#c02222" stroke-width="2.98"/>
<polyline points="124.8,259.5 132.2,262 139.6,264.5" stroke="#1f6d43" stroke-width="4.50"/>
<polyline points="124.8,259.5 132.2,262 139.6,264.5" stroke="#3aa268" stroke-width="2.02" transform="translate(-0.4,-0.4)"/>
<polyline points="129.7,259.5 131,274.4 128.5,284.3" stroke="#1f6d43" stroke-width="4.50"/>
<polyline points="129.7,259.5 131,274.4 128.5,284.3" stroke="#3aa268" stroke-width="2.02" transform="translate(-0.4,-0.4)"/>
<polyline points="152,257.1 154.5,259.5" stroke="#2020c0" stroke-width="2.55"/>
<polyline points="157,274.4 164.4,270.7 173.1,275.6 174.3,284.3 166.9,289.3 158.2,284.3 157,274.4" stroke="#1f6d43" stroke-width="3.15"/>
<polyline points="157,274.4 164.4,270.7 173.1,275.6 174.3,284.3 166.9,289.3 158.2,284.3 157,274.4" stroke="#3aa268" stroke-width="1.42" transform="translate(-0.4,-0.4)"/>
<polyline points="147.5,279.5 150,283" stroke="#2020c0" stroke-width="2.55"/>
<polyline points="143,268 146,271" stroke="#2020c0" stroke-width="2.55"/>
<polyline points="119,282 121,284" stroke="#c02222" stroke-width="2.55"/>
<polyline points="119.8,278.3 122.5,283.8 119.8,290.6 112.9,293.4" stroke="#1f6d43" stroke-width="3.15"/>
<polyline points="119.8,278.3 122.5,283.8 119.8,290.6 112.9,293.4" stroke="#3aa268" stroke-width="1.42" transform="translate(-0.4,-0.4)"/>
<polyline points="116.4,255 119.8,257.3" stroke="#2020c0" stroke-width="2.55"/>
<polyline points="106.5,257.3 118,256.5 130,255" stroke="#1f6d43" stroke-width="4.00"/>
<polyline points="106.5,257.3 118,256.5 130,255" stroke="#3aa268" stroke-width="1.80" transform="translate(-0.4,-0.4)"/>
<polyline points="96.6,241.8 96.6,262" stroke="#1f6d43" stroke-width="4.00"/>
<polyline points="96.6,241.8 96.6,262" stroke="#3aa268" stroke-width="1.80" transform="translate(-0.4,-0.4)"/>
<polyline points="108.2,259.9 116.4,257.4 124.7,255 133,259.9" stroke="#1f6d43" stroke-width="4.50"/>
<polyline points="108.2,259.9 116.4,257.4 124.7,255 133,259.9" stroke="#3aa268" stroke-width="2.02" transform="translate(-0.4,-0.4)"/>
<polyline points="93.3,276.4 129.7,277.3" stroke="#1f6d43" stroke-width="4.50"/>
<polyline points="93.3,276.4 129.7,277.3" stroke="#3aa268" stroke-width="2.02" transform="translate(-0.4,-0.4)"/>
<polyline points="90,276.4 93.3,278.1" stroke="#c02222" stroke-width="2.55"/>
<polyline points="129.7,258.3 129.7,278.1 126.4,283" stroke="#1f6d43" stroke-width="4.50"/>
<polyline points="129.7,258.3 129.7,278.1 126.4,283" stroke="#3aa268" stroke-width="2.02" transform="translate(-0.4,-0.4)"/>
<polyline points="103.2,288.8 104,291.3" stroke="#c02222" stroke-width="2.55"/>
<polyline points="113.1,292.1 116.4,293.8" stroke="#2020c0" stroke-width="2.55"/>
<polyline points="98,297 101.5,299" stroke="#2020c0" stroke-width="2.55"/>
<g stroke="#333" stroke-width="0.5"><line x1="51.6" y1="297.3" x2="45.4" y2="302.2"/><line x1="51.6" y1="297.3" x2="55" y2="304.9"/><line x1="51.6" y1="297.3" x2="57" y2="291"/><line x1="51.6" y1="297.3" x2="44" y2="290"/></g>
<defs><radialGradient id="org" cx="0.4" cy="0.35" r="0.7"><stop offset="0" stop-color="#f8c070"/><stop offset="0.6" stop-color="#e08a20"/><stop offset="1" stop-color="#a05a10"/></radialGradient></defs>
<circle cx="51.6" cy="297.3" r="3.6" fill="url(#org)"/></g>
<line x1="62.7" y1="18.5" x2="62.7" y2="161.3" stroke="#b4b4b4" stroke-width="1.6"/>
<line x1="56" y1="161.3" x2="250.5" y2="161.3" stroke="#7a7a7a" stroke-width="1.1"/>
<line x1="58.8" y1="18.5" x2="250.0" y2="18.5" stroke="#7a7a7a" stroke-width="1.1"/>
<line x1="250.0" y1="18.5" x2="250.0" y2="161.3" stroke="#a0a0a0" stroke-width="1.4"/>
<line x1="55.5" y1="33.50" x2="62.7" y2="33.50" stroke="#8a8a8a" stroke-width="1"/>
<line x1="55.5" y1="65.40" x2="62.7" y2="65.40" stroke="#8a8a8a" stroke-width="1"/>
<line x1="55.5" y1="97.30" x2="62.7" y2="97.30" stroke="#8a8a8a" stroke-width="1"/>
<line x1="55.5" y1="129.20" x2="62.7" y2="129.20" stroke="#8a8a8a" stroke-width="1"/>
<line x1="55.5" y1="161.10" x2="62.7" y2="161.10" stroke="#8a8a8a" stroke-width="1"/>
<line x1="58.8" y1="23.90" x2="62.7" y2="23.90" stroke="#a8a8a8" stroke-width="0.9"/>
<line x1="58.8" y1="18.28" x2="62.7" y2="18.28" stroke="#a8a8a8" stroke-width="0.9"/>
<line x1="58.8" y1="55.80" x2="62.7" y2="55.80" stroke="#a8a8a8" stroke-width="0.9"/>
<line x1="58.8" y1="50.18" x2="62.7" y2="50.18" stroke="#a8a8a8" stroke-width="0.9"/>
<line x1="58.8" y1="46.19" x2="62.7" y2="46.19" stroke="#a8a8a8" stroke-width="0.9"/>
<line x1="58.8" y1="43.10" x2="62.7" y2="43.10" stroke="#a8a8a8" stroke-width="0.9"/>
<line x1="58.8" y1="40.58" x2="62.7" y2="40.58" stroke="#a8a8a8" stroke-width="0.9"/>
<line x1="58.8" y1="38.44" x2="62.7" y2="38.44" stroke="#a8a8a8" stroke-width="0.9"/>
<line x1="58.8" y1="36.59" x2="62.7" y2="36.59" stroke="#a8a8a8" stroke-width="0.9"/>
<line x1="58.8" y1="34.96" x2="62.7" y2="34.96" stroke="#a8a8a8" stroke-width="0.9"/>
<line x1="58.8" y1="87.70" x2="62.7" y2="87.70" stroke="#a8a8a8" stroke-width="0.9"/>
<line x1="58.8" y1="82.08" x2="62.7" y2="82.08" stroke="#a8a8a8" stroke-width="0.9"/>
<line x1="58.8" y1="78.09" x2="62.7" y2="78.09" stroke="#a8a8a8" stroke-width="0.9"/>
<line x1="58.8" y1="75.00" x2="62.7" y2="75.00" stroke="#a8a8a8" stroke-width="0.9"/>
<line x1="58.8" y1="72.48" x2="62.7" y2="72.48" stroke="#a8a8a8" stroke-width="0.9"/>
<line x1="58.8" y1="70.34" x2="62.7" y2="70.34" stroke="#a8a8a8" stroke-width="0.9"/>
<line x1="58.8" y1="68.49" x2="62.7" y2="68.49" stroke="#a8a8a8" stroke-width="0.9"/>
<line x1="58.8" y1="66.86" x2="62.7" y2="66.86" stroke="#a8a8a8" stroke-width="0.9"/>
<line x1="58.8" y1="119.60" x2="62.7" y2="119.60" stroke="#a8a8a8" stroke-width="0.9"/>
<line x1="58.8" y1="113.98" x2="62.7" y2="113.98" stroke="#a8a8a8" stroke-width="0.9"/>
<line x1="58.8" y1="109.99" x2="62.7" y2="109.99" stroke="#a8a8a8" stroke-width="0.9"/>
<line x1="58.8" y1="106.90" x2="62.7" y2="106.90" stroke="#a8a8a8" stroke-width="0.9"/>
<line x1="58.8" y1="104.38" x2="62.7" y2="104.38" stroke="#a8a8a8" stroke-width="0.9"/>
<line x1="58.8" y1="102.24" x2="62.7" y2="102.24" stroke="#a8a8a8" stroke-width="0.9"/>
<line x1="58.8" y1="100.39" x2="62.7" y2="100.39" stroke="#a8a8a8" stroke-width="0.9"/>
<line x1="58.8" y1="98.76" x2="62.7" y2="98.76" stroke="#a8a8a8" stroke-width="0.9"/>
<line x1="58.8" y1="151.50" x2="62.7" y2="151.50" stroke="#a8a8a8" stroke-width="0.9"/>
<line x1="58.8" y1="145.88" x2="62.7" y2="145.88" stroke="#a8a8a8" stroke-width="0.9"/>
<line x1="58.8" y1="141.89" x2="62.7" y2="141.89" stroke="#a8a8a8" stroke-width="0.9"/>
<line x1="58.8" y1="138.80" x2="62.7" y2="138.80" stroke="#a8a8a8" stroke-width="0.9"/>
<line x1="58.8" y1="136.28" x2="62.7" y2="136.28" stroke="#a8a8a8" stroke-width="0.9"/>
<line x1="58.8" y1="134.14" x2="62.7" y2="134.14" stroke="#a8a8a8" stroke-width="0.9"/>
<line x1="58.8" y1="132.29" x2="62.7" y2="132.29" stroke="#a8a8a8" stroke-width="0.9"/>
<line x1="58.8" y1="130.66" x2="62.7" y2="130.66" stroke="#a8a8a8" stroke-width="0.9"/>
<line x1="68.40" y1="161.3" x2="68.40" y2="167" stroke="#8a8a8a" stroke-width="1.1"/>
<line x1="104.70" y1="161.3" x2="104.70" y2="167" stroke="#8a8a8a" stroke-width="1.1"/>
<line x1="141.00" y1="161.3" x2="141.00" y2="167" stroke="#8a8a8a" stroke-width="1.1"/>
<line x1="177.30" y1="161.3" x2="177.30" y2="167" stroke="#8a8a8a" stroke-width="1.1"/>
<line x1="213.60" y1="161.3" x2="213.60" y2="167" stroke="#8a8a8a" stroke-width="1.1"/>
<line x1="249.90" y1="161.3" x2="249.90" y2="167" stroke="#8a8a8a" stroke-width="1.1"/>
<text x="24.4" y="38.10" font-size="12.8" font-family="Liberation Sans, sans-serif" fill="#111">10<tspan font-size="9.4" dy="-4.6">-2</tspan></text>
<text x="24.4" y="70.00" font-size="12.8" font-family="Liberation Sans, sans-serif" fill="#111">10<tspan font-size="9.4" dy="-4.6">-3</tspan></text>
<text x="24.4" y="101.90" font-size="12.8" font-family="Liberation Sans, sans-serif" fill="#111">10<tspan font-size="9.4" dy="-4.6">-4</tspan></text>
<text x="24.4" y="133.80" font-size="12.8" font-family="Liberation Sans, sans-serif" fill="#111">10<tspan font-size="9.4" dy="-4.6">-5</tspan></text>
<text x="24.4" y="165.70" font-size="12.8" font-family="Liberation Sans, sans-serif" fill="#111">10<tspan font-size="9.4" dy="-4.6">-6</tspan></text>
<text x="69.40" y="182.9" text-anchor="middle" font-size="12.8" font-family="Liberation Sans, sans-serif" fill="#111">10<tspan font-size="9.4" dy="-4.6">0</tspan></text>
<text x="105.70" y="182.9" text-anchor="middle" font-size="12.8" font-family="Liberation Sans, sans-serif" fill="#111">10<tspan font-size="9.4" dy="-4.6">2</tspan></text>
<text x="142.00" y="182.9" text-anchor="middle" font-size="12.8" font-family="Liberation Sans, sans-serif" fill="#111">10<tspan font-size="9.4" dy="-4.6">4</tspan></text>
<text x="178.30" y="182.9" text-anchor="middle" font-size="12.8" font-family="Liberation Sans, sans-serif" fill="#111">10<tspan font-size="9.4" dy="-4.6">6</tspan></text>
<text x="214.60" y="182.9" text-anchor="middle" font-size="12.8" font-family="Liberation Sans, sans-serif" fill="#111">10<tspan font-size="9.4" dy="-4.6">8</tspan></text>
<text x="250.90" y="182.9" text-anchor="middle" font-size="12.8" font-family="Liberation Sans, sans-serif" fill="#111">10<tspan font-size="9.4" dy="-4.6">10</tspan></text>
<text x="159.6" y="203.1" text-anchor="middle" font-size="15.8" font-family="Liberation Sans, sans-serif" fill="#111">Computational effort</text>
<text transform="translate(13.0,95.5) rotate(-90)" text-anchor="middle" font-size="15.5" font-family="Liberation Sans, sans-serif" fill="#111">Energy error / Hartree</text>
<polyline points="68.4,28.8 110.1,57.1 151.7,85.9 193.2,119.1 234.9,151.6" fill="none" stroke="#5b3da3" stroke-width="1.7"/>
<circle cx="68.4" cy="28.8" r="2.5" fill="#5b3da3"/>
<circle cx="110.1" cy="57.1" r="2.5" fill="#5b3da3"/>
<circle cx="151.7" cy="85.9" r="2.5" fill="#5b3da3"/>
<circle cx="193.2" cy="119.1" r="2.5" fill="#5b3da3"/>
<circle cx="234.9" cy="151.6" r="2.5" fill="#5b3da3"/>
<text x="74.6" y="31.5" font-size="12.6" font-family="Liberation Sans, sans-serif" fill="#111">CCSD</text>
<text x="113.0" y="58.0" font-size="12.6" font-family="Liberation Sans, sans-serif" fill="#111">CCSDT</text>
<text x="156.5" y="87.9" font-size="12.6" font-family="Liberation Sans, sans-serif" fill="#111">CCSDTQ</text>
<text x="123.5" y="124.1" font-size="12.6" font-family="Liberation Sans, sans-serif" fill="#111">CCSDTQP</text>
<text x="157.0" y="157.3" font-size="12.6" font-family="Liberation Sans, sans-serif" fill="#111">CCSDTQPH</text>
<text x="71.6" y="146.5" font-size="12.2" font-family="Liberation Sans, sans-serif" fill="#111">N</text>
<text x="111.7" y="146.5" font-size="12.2" font-family="Liberation Sans, sans-serif" fill="#111">N</text>
<line x1="84.3" y1="138.4" x2="106.9" y2="138.4" stroke="#333" stroke-width="1"/>
<line x1="84.3" y1="142.1" x2="106.9" y2="142.1" stroke="#333" stroke-width="1"/>
<line x1="84.3" y1="145.8" x2="106.9" y2="145.8" stroke="#333" stroke-width="1"/>
<text x="-0.3" y="13.3" font-size="17" font-family="Liberation Sans, sans-serif" fill="#111">A</text>
<text x="282.6" y="13.6" font-size="17" font-family="Liberation Sans, sans-serif" fill="#111">B</text>
<text x="-0.3" y="221.2" font-size="17" font-family="Liberation Sans, sans-serif" fill="#111">C</text>
<line x1="349" y1="19.5" x2="671.4" y2="19.5" stroke="#444" stroke-width="1.1"/>
<line x1="671.4" y1="19.5" x2="671.4" y2="310.4" stroke="#444" stroke-width="1.1"/>
<line x1="353.0" y1="19.5" x2="353.0" y2="307.5" stroke="#8c8c8c" stroke-width="1.8"/>
<line x1="353.0" y1="306.9" x2="671.4" y2="306.9" stroke="#8c8c8c" stroke-width="1.5"/>
<line x1="349" y1="306.70" x2="353.0" y2="306.70" stroke="#666" stroke-width="1.1"/>
<line x1="349" y1="258.83" x2="353.0" y2="258.83" stroke="#666" stroke-width="1.1"/>
<line x1="349" y1="210.96" x2="353.0" y2="210.96" stroke="#666" stroke-width="1.1"/>
<line x1="349" y1="163.09" x2="353.0" y2="163.09" stroke="#666" stroke-width="1.1"/>
<line x1="349" y1="115.22" x2="353.0" y2="115.22" stroke="#666" stroke-width="1.1"/>
<line x1="349" y1="67.35" x2="353.0" y2="67.35" stroke="#666" stroke-width="1.1"/>
<line x1="349" y1="19.48" x2="353.0" y2="19.48" stroke="#666" stroke-width="1.1"/>
<text x="344.6" y="27.15" text-anchor="end" font-size="16.8" font-family="Liberation Sans, sans-serif" fill="#111">600</text>
<text x="344.6" y="73.45" text-anchor="end" font-size="16.8" font-family="Liberation Sans, sans-serif" fill="#111">500</text>
<text x="344.6" y="121.75" text-anchor="end" font-size="16.8" font-family="Liberation Sans, sans-serif" fill="#111">400</text>
<text x="344.6" y="168.35" text-anchor="end" font-size="16.8" font-family="Liberation Sans, sans-serif" fill="#111">300</text>
<text x="344.6" y="215.75" text-anchor="end" font-size="16.8" font-family="Liberation Sans, sans-serif" fill="#111">200</text>
<text x="344.6" y="264.15" text-anchor="end" font-size="16.8" font-family="Liberation Sans, sans-serif" fill="#111">100</text>
<text x="342.8" y="310.05" text-anchor="end" font-size="16.8" font-family="Liberation Sans, sans-serif" fill="#111">0</text>
<line x1="353.10" y1="306.9" x2="353.10" y2="310.4" stroke="#666" stroke-width="1.1"/>
<text x="353.10" y="331.2" text-anchor="middle" font-size="16.4" font-family="Liberation Sans, sans-serif" fill="#111">20</text>
<line x1="416.70" y1="306.9" x2="416.70" y2="310.4" stroke="#666" stroke-width="1.1"/>
<text x="416.70" y="331.2" text-anchor="middle" font-size="16.4" font-family="Liberation Sans, sans-serif" fill="#111">40</text>
<line x1="480.30" y1="306.9" x2="480.30" y2="310.4" stroke="#666" stroke-width="1.1"/>
<text x="480.30" y="331.2" text-anchor="middle" font-size="16.4" font-family="Liberation Sans, sans-serif" fill="#111">60</text>
<line x1="543.90" y1="306.9" x2="543.90" y2="310.4" stroke="#666" stroke-width="1.1"/>
<text x="543.90" y="331.2" text-anchor="middle" font-size="16.4" font-family="Liberation Sans, sans-serif" fill="#111">80</text>
<line x1="607.50" y1="306.9" x2="607.50" y2="310.4" stroke="#666" stroke-width="1.1"/>
<text x="607.50" y="331.2" text-anchor="middle" font-size="16.4" font-family="Liberation Sans, sans-serif" fill="#111">100</text>
<line x1="671.10" y1="306.9" x2="671.10" y2="310.4" stroke="#666" stroke-width="1.1"/>
<text x="671.10" y="331.2" text-anchor="middle" font-size="16.4" font-family="Liberation Sans, sans-serif" fill="#111">120</text>
<text transform="translate(296.4,165.1) rotate(-90)" text-anchor="middle" font-size="17.6" font-family="Liberation Sans, sans-serif" fill="#111">Computational time / min</text>
<text x="404.3" y="358.6" font-size="17.4" font-family="Liberation Sans, sans-serif" fill="#111">Number of carbon atoms</text>
<text x="601.6" y="358.8" font-size="19.5" font-family="Liberation Serif, serif" fill="#111">(</text>
<text x="607.4" y="358.6" font-size="20" font-family="Liberation Serif, serif" font-style="italic" fill="#111">m</text>
<text x="623.0" y="358.8" font-size="19.5" font-family="Liberation Serif, serif" fill="#111">)</text>
<defs><clipPath id="bclip"><rect x="353" y="19.5" width="318.4" height="287.4"/></clipPath><clipPath id="iclip"><rect x="372" y="31.1" width="127.6" height="114.6"/></clipPath></defs>
<g clip-path="url(#bclip)">
<polyline points="353.10,288.17 416.70,255.48 480.30,216.85 543.90,172.38 607.50,114.12 671.10,59.21" fill="none" stroke="#1565c0" stroke-width="1.9"/>
<circle cx="353.10" cy="288.17" r="3.6" fill="#1565c0"/>
<circle cx="416.70" cy="255.48" r="3.6" fill="#1565c0"/>
<circle cx="480.30" cy="216.85" r="3.6" fill="#1565c0"/>
<circle cx="543.90" cy="172.38" r="3.6" fill="#1565c0"/>
<circle cx="607.50" cy="114.12" r="3.6" fill="#1565c0"/>
<circle cx="671.10" cy="59.21" r="3.6" fill="#1565c0"/>
</g>
<rect x="372.0" y="31.1" width="127.60000000000002" height="114.6" fill="#fff" stroke="none"/>
<line x1="372.0" y1="31.1" x2="499.6" y2="31.1" stroke="#555" stroke-width="1.3"/>
<line x1="372.0" y1="31.1" x2="372.0" y2="145.7" stroke="#666" stroke-width="1.3"/>
<line x1="372.0" y1="145.7" x2="499.6" y2="145.7" stroke="#666" stroke-width="1.3"/>
<line x1="499.6" y1="31.1" x2="499.6" y2="145.7" stroke="#333" stroke-width="1.2"/>
<line x1="372.0" y1="117.20" x2="499.6" y2="117.20" stroke="#111" stroke-width="1.5"/>
<line x1="378.70" y1="145.7" x2="378.70" y2="149.8" stroke="#444" stroke-width="1.1"/>
<text x="378.70" y="161.4" text-anchor="middle" font-size="11.4" font-family="Liberation Sans, sans-serif" fill="#111">2</text>
<line x1="405.46" y1="145.7" x2="405.46" y2="149.8" stroke="#444" stroke-width="1.1"/>
<text x="405.46" y="161.4" text-anchor="middle" font-size="11.4" font-family="Liberation Sans, sans-serif" fill="#111">6</text>
<line x1="432.22" y1="145.7" x2="432.22" y2="149.8" stroke="#444" stroke-width="1.1"/>
<text x="432.22" y="161.4" text-anchor="middle" font-size="11.4" font-family="Liberation Sans, sans-serif" fill="#111">10</text>
<line x1="458.98" y1="145.7" x2="458.98" y2="149.8" stroke="#444" stroke-width="1.1"/>
<text x="458.98" y="161.4" text-anchor="middle" font-size="11.4" font-family="Liberation Sans, sans-serif" fill="#111">14</text>
<line x1="485.74" y1="145.7" x2="485.74" y2="149.8" stroke="#444" stroke-width="1.1"/>
<text x="485.74" y="161.4" text-anchor="middle" font-size="11.4" font-family="Liberation Sans, sans-serif" fill="#111">18</text>
<line x1="499.6" y1="31.40" x2="503.2" y2="31.40" stroke="#333" stroke-width="1.1"/>
<text x="525.2" y="35.50" text-anchor="end" font-size="11.6" font-family="Liberation Sans, sans-serif" fill="#111">3.0</text>
<line x1="499.6" y1="60.00" x2="503.2" y2="60.00" stroke="#333" stroke-width="1.1"/>
<text x="525.2" y="64.10" text-anchor="end" font-size="11.6" font-family="Liberation Sans, sans-serif" fill="#111">2.0</text>
<line x1="499.6" y1="88.60" x2="503.2" y2="88.60" stroke="#333" stroke-width="1.1"/>
<text x="525.2" y="92.70" text-anchor="end" font-size="11.6" font-family="Liberation Sans, sans-serif" fill="#111">1.0</text>
<line x1="499.6" y1="117.20" x2="503.2" y2="117.20" stroke="#333" stroke-width="1.1"/>
<text x="525.2" y="121.30" text-anchor="end" font-size="11.6" font-family="Liberation Sans, sans-serif" fill="#111">0.0</text>
<line x1="499.6" y1="145.80" x2="503.2" y2="145.80" stroke="#333" stroke-width="1.1"/>
<text x="525.2" y="149.90" text-anchor="end" font-size="11.6" font-family="Liberation Sans, sans-serif" fill="#111">-1.0</text>
<text x="375.0" y="179.4" font-size="11" font-family="Liberation Sans, sans-serif" fill="#111">Number of carbon atoms</text>
<text transform="translate(544.2,90.0) rotate(-90)" text-anchor="middle" font-size="11" font-family="Liberation Sans, sans-serif" fill="#111">Error in <tspan font-family="Liberation Serif, serif" font-style="italic">Δ</tspan><tspan font-family="Liberation Serif, serif" font-style="italic" font-size="8" dy="2">f</tspan><tspan font-family="Liberation Serif, serif" font-style="italic" dy="-2">H</tspan><tspan font-size="8" dy="-4">⊖</tspan><tspan dy="4"> per carbon</tspan></text>
<g clip-path="url(#iclip)">
<polyline points="378.70,91.95 392.08,94.75 405.46,98.52 418.84,99.64 432.22,100.24 445.60,100.73 458.98,100.93 472.36,100.73 485.74,102.04 499.12,104.90" fill="none" stroke="#f01414" stroke-width="1.8"/>
<circle cx="378.70" cy="91.95" r="3.4" fill="#f01414"/>
<circle cx="392.08" cy="94.75" r="3.4" fill="#f01414"/>
<circle cx="405.46" cy="98.52" r="3.4" fill="#f01414"/>
<circle cx="418.84" cy="99.64" r="3.4" fill="#f01414"/>
<circle cx="432.22" cy="100.24" r="3.4" fill="#f01414"/>
<circle cx="445.60" cy="100.73" r="3.4" fill="#f01414"/>
<circle cx="458.98" cy="100.93" r="3.4" fill="#f01414"/>
<circle cx="472.36" cy="100.73" r="3.4" fill="#f01414"/>
<circle cx="485.74" cy="102.04" r="3.4" fill="#f01414"/>
<circle cx="499.12" cy="104.90" r="3.4" fill="#f01414"/>
</g>
<text x="537.75" y="213.06" text-anchor="middle" font-size="15.8" font-family="Liberation Sans, sans-serif" fill="#111">H</text>
<text x="564.6" y="213.06" text-anchor="middle" font-size="15.8" font-family="Liberation Sans, sans-serif" fill="#111">H</text>
<text x="528.5" y="249.16" text-anchor="middle" font-size="15.8" font-family="Liberation Sans, sans-serif" fill="#111">H</text>
<text x="597.9" y="213.06" text-anchor="middle" font-size="15.8" font-family="Liberation Sans, sans-serif" fill="#111">H</text>
<text x="625.0" y="213.06" text-anchor="middle" font-size="15.8" font-family="Liberation Sans, sans-serif" fill="#111">H</text>
<text x="634.8" y="249.16" text-anchor="middle" font-size="15.8" font-family="Liberation Sans, sans-serif" fill="#111">H</text>
<text x="569.0" y="280.26" text-anchor="middle" font-size="15.8" font-family="Liberation Sans, sans-serif" fill="#111">H</text>
<text x="594.2" y="280.26" text-anchor="middle" font-size="15.8" font-family="Liberation Sans, sans-serif" fill="#111">H</text>
<text x="551.0999999999999" y="236.66" text-anchor="middle" font-size="15.8" font-family="Liberation Sans, sans-serif" fill="#111">C</text>
<text x="612.0" y="236.66" text-anchor="middle" font-size="15.8" font-family="Liberation Sans, sans-serif" fill="#111">C</text>
<text x="581.9" y="257.36" text-anchor="middle" font-size="15.8" font-family="Liberation Sans, sans-serif" fill="#111">C</text>
<line x1="543.9" y1="232.7" x2="534.8" y2="238.8" stroke="#111" stroke-width="1.2"/>
<line x1="618.1" y1="233.3" x2="627.7" y2="239.2" stroke="#111" stroke-width="1.2"/>
<line x1="556.5" y1="235.5" x2="576.7" y2="247.5" stroke="#111" stroke-width="1.2"/>
<line x1="586.0" y1="247.5" x2="605.5" y2="235.5" stroke="#111" stroke-width="1.2"/>
<line x1="540.80" y1="216.4" x2="545.10" y2="214.5" stroke="#111" stroke-width="1.3"/>
<line x1="543.00" y1="219.1" x2="546.00" y2="217.6" stroke="#111" stroke-width="1.3"/>
<line x1="545.10" y1="221.5" x2="547.20" y2="220.4" stroke="#111" stroke-width="1.3"/>
<line x1="547.10" y1="223.6" x2="548.40" y2="223.0" stroke="#111" stroke-width="1.3"/>
<polygon points="554.60,223.8 557.00,214.3 562.00,216.7" fill="#111"/>
<line x1="601.60" y1="216.4" x2="605.90" y2="214.5" stroke="#111" stroke-width="1.3"/>
<line x1="603.80" y1="219.1" x2="606.80" y2="217.6" stroke="#111" stroke-width="1.3"/>
<line x1="605.90" y1="221.5" x2="608.00" y2="220.4" stroke="#111" stroke-width="1.3"/>
<line x1="607.90" y1="223.6" x2="609.20" y2="223.0" stroke="#111" stroke-width="1.3"/>
<polygon points="615.40,223.8 617.80,214.3 622.80,216.7" fill="#111"/>
<line x1="576.7" y1="257.7" x2="577.9" y2="258.5" stroke="#111" stroke-width="1.3"/>
<line x1="574.4" y1="259.7" x2="576.7" y2="260.9" stroke="#111" stroke-width="1.3"/>
<line x1="572.9" y1="262.2" x2="575.7" y2="263.9" stroke="#111" stroke-width="1.3"/>
<line x1="570.9" y1="264.5" x2="574.9" y2="267.0" stroke="#111" stroke-width="1.3"/>
<polygon points="585.4,257.8 587.9,267.3 593.0,264.6" fill="#111"/>
<polyline points="565.0,228.3 561.6,228.3 561.6,287.3 565.0,287.3" fill="none" stroke="#111" stroke-width="1.2"/>
<polyline points="598.8,228.3 602.4,228.3 602.4,287.3 598.8,287.3" fill="none" stroke="#111" stroke-width="1.2"/>
<text x="606.9" y="289.2" font-size="18.5" font-family="Liberation Serif, serif" font-style="italic" fill="#111">m</text>
<line x1="627.6" y1="284.1" x2="637.8" y2="284.1" stroke="#111" stroke-width="1.1"/>
<text x="643.4" y="289.2" font-size="16" font-family="Liberation Serif, serif" fill="#111">2</text>
<text x="165.2" y="311.6" font-size="12.75" font-family="Liberation Sans, sans-serif" fill="#111"># of atoms:</text>
<text x="260.5" y="311.6" text-anchor="end" font-size="12.75" font-family="Liberation Sans, sans-serif" fill="#111">565</text>
<text x="260.5" y="326.7" text-anchor="end" font-size="12.75" font-family="Liberation Sans, sans-serif" fill="#111"># of electrons: 2170</text>
<text x="260.5" y="342.1" text-anchor="end" font-size="12.75" font-family="Liberation Sans, sans-serif" fill="#111"># of basis functions: 5420</text>
<text x="259.0" y="358.8" text-anchor="end" font-size="14.25" font-family="Liberation Sans, sans-serif" fill="#111">Computational time: 70 hours</text>
</svg>
</body></html>
